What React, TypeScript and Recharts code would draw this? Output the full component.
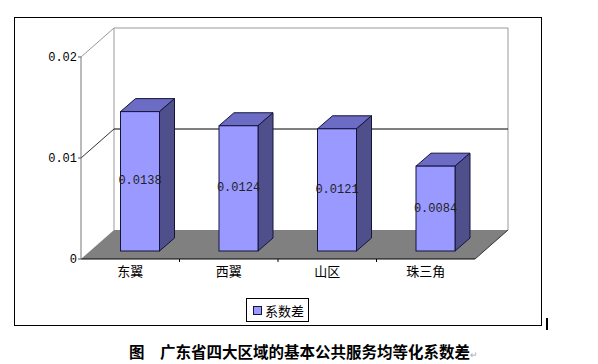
import React from "react";
import { BarChart, Bar, XAxis, YAxis, LabelList } from "recharts";

const regions = ["东翼", "西翼", "山区", "珠三角"];
const coefDiff = [0.0138, 0.0124, 0.0121, 0.0084];
const yTicks = [0, 0.01, 0.02];
const seriesName = "系数差";
const caption = "图\u3000广东省四大区域的基本公共服务均等化系数差";

const data = regions.map((name, i) => ({ name, value: coefDiff[i] }));

// plot area (front plane) and 3D depth
const L = 81;
const R = 475;
const T = 57;
const B = 259;
const W = 598;
const H = 364;
const WALL_DX = 33;
const WALL_DY = 29;
// bars sit a bit inside the floor
const BAR_OX = 9.5;
const BAR_OY = 8;
const BAR_DX = 15;
const BAR_DY = 13;

const monoFont = "'Liberation Mono', 'DejaVu Sans Mono', monospace";
const cjkFont = "'Noto Sans CJK SC', sans-serif";

function Bar3D(props: any) {
  const { x, y, width, height } = props;
  if (!width || height == null) return null;
  const x0 = x + BAR_OX;
  const y0 = y - BAR_OY;
  const x1 = x0 + width;
  const y1 = y0 + height;
  return (
    <g stroke="#14143c" strokeWidth={1}>
      <polygon
        points={`${x0},${y0} ${x0 + BAR_DX},${y0 - BAR_DY} ${x1 + BAR_DX},${y0 - BAR_DY} ${x1},${y0}`}
        fill="#6c6cc4"
      />
      <polygon
        points={`${x1},${y0} ${x1 + BAR_DX},${y0 - BAR_DY} ${x1 + BAR_DX},${y1 - BAR_DY} ${x1},${y1}`}
        fill="#4f4f8c"
      />
      <rect x={x0} y={y0} width={width} height={height} fill="#9999ff" />
    </g>
  );
}

function BarLabel(props: any) {
  const { x, y, width, height, value } = props;
  return (
    <text
      x={x + BAR_OX + width / 2}
      y={y - BAR_OY + height / 2}
      textAnchor="middle"
      dominantBaseline="central"
      fontFamily={monoFont}
      fontSize={12}
      fill="#222"
    >
      {Number(value).toFixed(4)}
    </text>
  );
}

function CategoryTick(props: any) {
  const { x, y, payload, index } = props;
  const band = (R - L) / regions.length;
  return (
    <g>
      {index < regions.length - 1 && (
        <line x1={x + band / 2} y1={B} x2={x + band / 2} y2={B + 3} stroke="#000" />
      )}
      <text x={x} y={y + 9} textAnchor="middle" fontFamily={cjkFont} fontSize={13} fill="#000">
        {payload.value}
      </text>
    </g>
  );
}

function Walls() {
  const bl = L + WALL_DX;
  const br = R + WALL_DX;
  const bt = T - WALL_DY;
  const bb = B - WALL_DY;
  const gridY = T + (B - T) / 2;
  return (
    <svg width={W} height={H} style={{ position: "absolute", left: 0, top: 0 }}>
      <rect x={14.5} y={17.5} width={527} height={308} fill="#fff" stroke="#000" />
      <polygon points={`${L},${B} ${R},${B} ${br},${bb} ${bl},${bb}`} fill="#808080" />
      <line x1={bl} y1={bt} x2={br} y2={bt} stroke="#999" />
      <line x1={bl} y1={bt} x2={bl} y2={bb} stroke="#999" />
      <line x1={br} y1={bt} x2={br} y2={bb} stroke="#999" />
      <line x1={bl} y1={gridY - WALL_DY} x2={br} y2={gridY - WALL_DY} stroke="#000" />
      <line x1={L} y1={T} x2={bl} y2={bt} stroke="#999" />
      <line x1={L} y1={gridY} x2={bl} y2={gridY - WALL_DY} stroke="#333" />
      <line x1={R} y1={B} x2={br} y2={bb} stroke="#333" />
    </svg>
  );
}

function LegendBox() {
  return (
    <div
      style={{
        position: "absolute",
        left: 246,
        top: 298,
        display: "flex",
        alignItems: "center",
        border: "1px solid #000",
        width: 63,
        height: 24,
        boxSizing: "border-box",
        paddingLeft: 6,
        background: "#fff",
        fontFamily: cjkFont,
        fontSize: 13,
        color: "#000",
      }}
    >
      <span
        style={{
          display: "inline-block",
          width: 7,
          height: 7,
          background: "#9999ff",
          border: "1px solid #14143c",
          marginRight: 3,
        }}
      />
      {seriesName}
    </div>
  );
}

export default function App() {
  return (
    <div style={{ position: "absolute", left: 0, top: 0, width: W, height: H, background: "#fff" }}>
      <Walls />
      <div style={{ position: "absolute", left: 0, top: 0 }}>
        <BarChart
          width={W}
          height={H}
          data={data}
          margin={{ top: T, right: W - R, bottom: H - B - 30, left: 40 }}
        >
          <XAxis
            dataKey="name"
            height={30}
            tickLine={false}
            axisLine={{ stroke: "#000" }}
            tick={<CategoryTick />}
            interval={0}
          />
          <YAxis
            width={L - 40}
            domain={[0, 0.02]}
            ticks={yTicks}
            tickFormatter={(v: number) => (v === 0 ? "0" : v.toFixed(2))}
            axisLine={{ stroke: "#777" }}
            tickLine={{ stroke: "#555" }}
            tickSize={3}
            tickMargin={1}
            tick={{ fontFamily: monoFont, fontSize: 12, fill: "#000" }}
          />
          <Bar dataKey="value" name={seriesName} barSize={39} shape={<Bar3D />} isAnimationActive={false}>
            <LabelList dataKey="value" content={<BarLabel />} />
          </Bar>
        </BarChart>
      </div>
      <LegendBox />
      <div
        style={{
          position: "absolute",
          left: 546,
          top: 318,
          width: 2,
          height: 12,
          background: "#000",
        }}
      />
      <div
        style={{
          position: "absolute",
          left: 129,
          top: 342,
          fontFamily: cjkFont,
          fontWeight: "bold",
          fontSize: 15.5,
          lineHeight: "18px",
          color: "#000",
          whiteSpace: "nowrap",
        }}
      >
        {caption}
        <span style={{ fontSize: 9, fontWeight: "normal", color: "#aaa" }}>↵</span>
      </div>
    </div>
  );
}
